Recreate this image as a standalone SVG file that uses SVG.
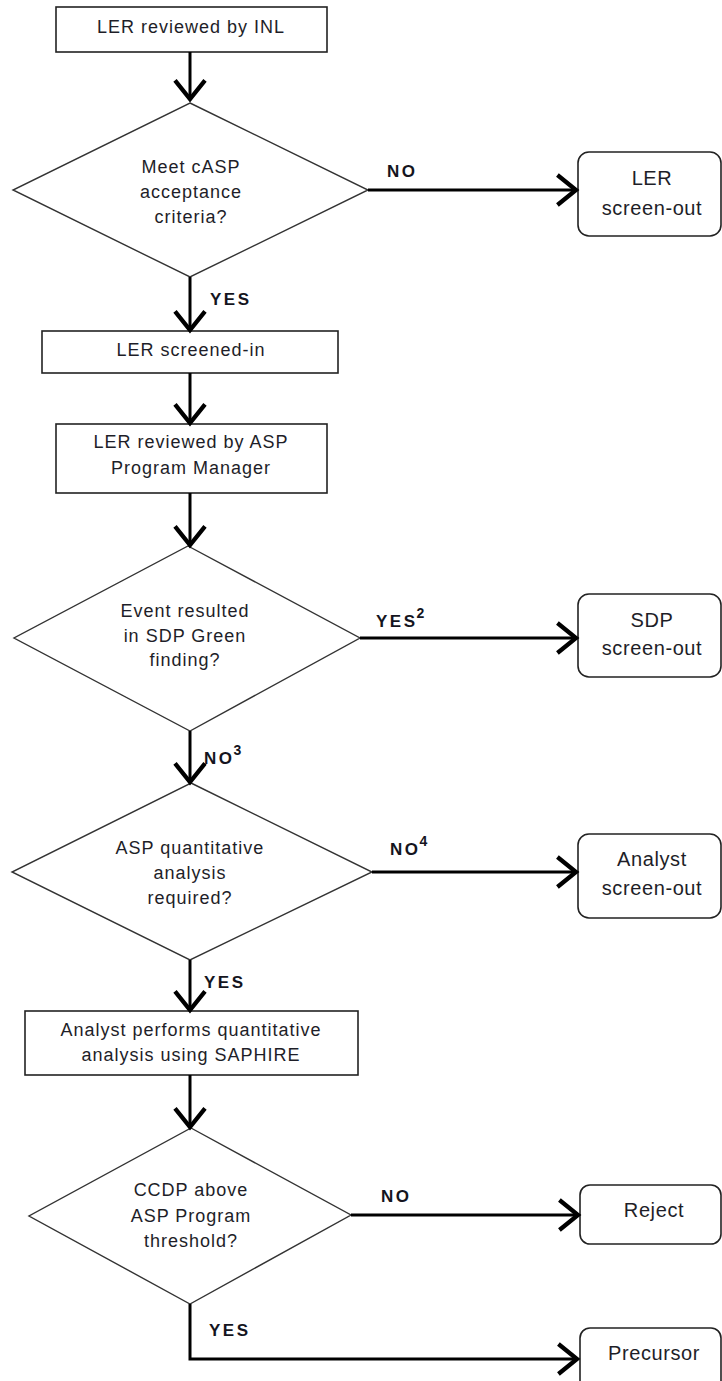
<svg xmlns="http://www.w3.org/2000/svg" width="722" height="1381" viewBox="0 0 722 1381">
<defs>
<style>
.box{fill:#fff;stroke:#222;stroke-width:1.6}
.dia{fill:#fff;stroke:#333;stroke-width:1.4}
.t{font-family:"Liberation Sans",Arial,sans-serif;font-size:18px;fill:#1e1e28;text-anchor:middle;letter-spacing:1px}
.rt{font-family:"Liberation Sans",Arial,sans-serif;font-size:20px;fill:#1e1e28;text-anchor:middle;letter-spacing:0.6px}
.lb{font-family:"Liberation Sans",Arial,sans-serif;font-size:17px;font-weight:bold;fill:#141420;letter-spacing:2.5px}
.sup{font-size:14px;letter-spacing:0}
.c{fill:none;stroke:#000;stroke-width:3}
</style>
<marker id="arr" markerUnits="userSpaceOnUse" markerWidth="40" markerHeight="40" viewBox="-18 -14 20 28" refX="0" refY="0" orient="auto" overflow="visible">
<path d="M-13,-10.5 L0,0 L-13,10.5" fill="none" stroke="#000" stroke-width="3"/>
</marker>
</defs>
<rect width="722" height="1381" fill="#fff"/>

<g id="n1"><rect class="box" x="56" y="7" width="271" height="45"/><text class="t" x="191" y="33">LER reviewed by INL</text></g>
<g id="d1"><polygon class="dia" points="190,103 368,190 190,277 13,190"/><text class="t" x="191" y="173">Meet cASP</text><text class="t" x="191" y="198">acceptance</text><text class="t" x="191" y="223">criteria?</text></g>
<g id="o1"><rect class="box" x="578" y="152" width="143" height="84" rx="11"/><text class="rt" x="652" y="185">LER</text><text class="rt" x="652" y="215">screen-out</text></g>
<g id="n2"><rect class="box" x="42" y="331" width="296" height="42"/><text class="t" x="191" y="356">LER screened-in</text></g>
<g id="n3"><rect class="box" x="56" y="424" width="271" height="69"/><text class="t" x="191" y="448">LER reviewed by ASP</text><text class="t" x="191" y="474">Program Manager</text></g>
<g id="d2"><polygon class="dia" points="188,546 360,638 190,731 14,638"/><text class="t" x="185" y="617">Event resulted</text><text class="t" x="185" y="642">in SDP Green</text><text class="t" x="185" y="666">finding?</text></g>
<g id="o2"><rect class="box" x="578" y="594" width="143" height="83" rx="11"/><text class="rt" x="652" y="627">SDP</text><text class="rt" x="652" y="655">screen-out</text></g>
<g id="d3"><polygon class="dia" points="191,783 372,872 190,960 12,872"/><text class="t" x="190" y="854">ASP quantitative</text><text class="t" x="190" y="879">analysis</text><text class="t" x="190" y="904">required?</text></g>
<g id="o3"><rect class="box" x="578" y="834" width="143" height="84" rx="11"/><text class="rt" x="652" y="866">Analyst</text><text class="rt" x="652" y="895">screen-out</text></g>
<g id="n4"><rect class="box" x="25" y="1011" width="333" height="64"/><text class="t" x="191" y="1036">Analyst performs quantitative</text><text class="t" x="191" y="1061">analysis using SAPHIRE</text></g>
<g id="d4"><polygon class="dia" points="191,1128 351,1215 190,1304 29,1216"/><text class="t" x="191" y="1196">CCDP above</text><text class="t" x="191" y="1222">ASP Program</text><text class="t" x="191" y="1247">threshold?</text></g>
<g id="o4"><rect class="box" x="580" y="1185" width="141" height="59" rx="10"/><text class="rt" x="654" y="1217">Reject</text></g>
<g id="o5"><rect class="box" x="580" y="1328" width="141" height="64" rx="10"/><text class="rt" x="654" y="1360">Precursor</text></g>

<g id="connectors">
<line class="c" x1="190" y1="52" x2="190" y2="99" marker-end="url(#arr)"/>
<line class="c" x1="190" y1="277" x2="190" y2="330" marker-end="url(#arr)"/>
<line class="c" x1="190" y1="373" x2="190" y2="423" marker-end="url(#arr)"/>
<line class="c" x1="190" y1="493" x2="190" y2="545" marker-end="url(#arr)"/>
<line class="c" x1="190" y1="731" x2="190" y2="782" marker-end="url(#arr)"/>
<line class="c" x1="190" y1="960" x2="190" y2="1010" marker-end="url(#arr)"/>
<line class="c" x1="190" y1="1075" x2="190" y2="1127" marker-end="url(#arr)"/>
<polyline class="c" points="190,1304 190,1359 577,1359" marker-end="url(#arr)"/>
<line class="c" x1="368" y1="190" x2="576" y2="190" marker-end="url(#arr)"/>
<line class="c" x1="360" y1="638" x2="576" y2="638" marker-end="url(#arr)"/>
<line class="c" x1="372" y1="872" x2="576" y2="872" marker-end="url(#arr)"/>
<line class="c" x1="351" y1="1215" x2="578" y2="1215" marker-end="url(#arr)"/>
</g>

<g id="labels">
<text class="lb" x="387" y="177">NO</text>
<text class="lb" x="210" y="305">YES</text>
<text class="lb" x="376" y="627">YES<tspan class="sup" dx="-1" dy="-9">2</tspan></text>
<text class="lb" x="204" y="764">NO<tspan class="sup" dx="-1" dy="-9">3</tspan></text>
<text class="lb" x="390" y="855">NO<tspan class="sup" dx="-1" dy="-9">4</tspan></text>
<text class="lb" x="204" y="988">YES</text>
<text class="lb" x="381" y="1202">NO</text>
<text class="lb" x="209" y="1336">YES</text>
</g>
</svg>
